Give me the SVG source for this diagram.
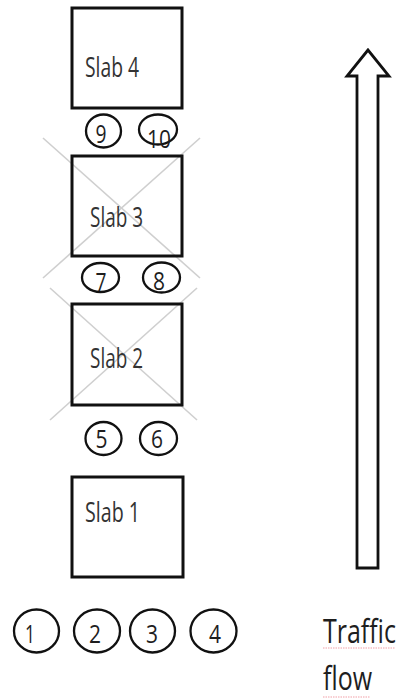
<svg xmlns="http://www.w3.org/2000/svg" width="402" height="699" viewBox="0 0 402 699">
  <style>
    .slab { fill: #ffffff; stroke: #111111; stroke-width: 3; }
    .cross { stroke: #cfcfcf; stroke-width: 1.6; fill: none; }
    .label { font-family: "Open Sans", "Liberation Sans", sans-serif; font-size: 28px; fill: #333333; }
    .pt { fill: #ffffff; stroke: #111111; stroke-width: 2.3; }
    .num { font-family: "Open Sans", "Liberation Sans", sans-serif; font-size: 26px; fill: #1e1e1e; text-anchor: middle; }
    .arrow { fill: #ffffff; stroke: #111111; stroke-width: 2.8; stroke-linejoin: miter; }
    .flow { font-family: "Open Sans", "Liberation Sans", sans-serif; font-size: 25px; fill: #1e1e1e; }
    .spell { stroke: #f2a0a8; stroke-width: 1.2; stroke-dasharray: 1.5 1; fill: none; }
  </style>
  <rect width="402" height="699" fill="#ffffff"/>

  <g id="slab4">
    <rect class="slab" x="72" y="8" width="110" height="100"/>
    <text class="label" x="85" y="77" textLength="54" lengthAdjust="spacingAndGlyphs">Slab 4</text>
  </g>

  <g id="slab3">
    <line class="cross" x1="43" y1="138" x2="200" y2="278"/>
    <line class="cross" x1="200" y1="138" x2="43" y2="278"/>
    <rect class="slab" x="72" y="156" width="110" height="100" fill-opacity="0"/>
    <text class="label" x="90" y="227" textLength="53" lengthAdjust="spacingAndGlyphs">Slab 3</text>
  </g>

  <g id="slab2">
    <line class="cross" x1="50" y1="288" x2="197" y2="420"/>
    <line class="cross" x1="197" y1="288" x2="50" y2="420"/>
    <rect class="slab" x="72" y="304" width="110" height="101" fill-opacity="0"/>
    <text class="label" x="90" y="368" textLength="53" lengthAdjust="spacingAndGlyphs">Slab 2</text>
  </g>

  <g id="slab1">
    <rect class="slab" x="72" y="477" width="111" height="100"/>
    <text class="label" x="85" y="522" textLength="55" lengthAdjust="spacingAndGlyphs">Slab 1</text>
  </g>

  <g id="p9"><ellipse class="pt" cx="103.5" cy="131" rx="17.5" ry="16.5"/><text class="num" x="101" y="143" textLength="11" lengthAdjust="spacingAndGlyphs">9</text></g>
  <g id="p10"><ellipse class="pt" cx="158" cy="129.5" rx="19" ry="15"/><text class="num" x="159" y="148" textLength="24" lengthAdjust="spacingAndGlyphs">10</text></g>
  <g id="p7"><ellipse class="pt" cx="100.5" cy="277.5" rx="18.5" ry="14.5"/><text class="num" x="101" y="291" textLength="11" lengthAdjust="spacingAndGlyphs">7</text></g>
  <g id="p8"><ellipse class="pt" cx="161.5" cy="277.5" rx="18.5" ry="15"/><text class="num" x="159" y="290" textLength="12" lengthAdjust="spacingAndGlyphs">8</text></g>
  <g id="p5"><ellipse class="pt" cx="103.5" cy="438.5" rx="18" ry="16.5"/><text class="num" x="101.5" y="448" textLength="12" lengthAdjust="spacingAndGlyphs">5</text></g>
  <g id="p6"><ellipse class="pt" cx="158.5" cy="438.5" rx="18.5" ry="16.5"/><text class="num" x="157" y="448" textLength="12" lengthAdjust="spacingAndGlyphs">6</text></g>
  <g id="p1"><ellipse class="pt" cx="36.5" cy="631" rx="22.5" ry="21.5"/><text class="num" x="30" y="643" textLength="10" lengthAdjust="spacingAndGlyphs">1</text></g>
  <g id="p2"><ellipse class="pt" cx="97" cy="631" rx="23" ry="21.5"/><text class="num" x="95" y="643" textLength="12" lengthAdjust="spacingAndGlyphs">2</text></g>
  <g id="p3"><ellipse class="pt" cx="152.5" cy="631" rx="22.5" ry="21.5"/><text class="num" x="152" y="643" textLength="12" lengthAdjust="spacingAndGlyphs">3</text></g>
  <g id="p4"><ellipse class="pt" cx="213.5" cy="631" rx="23" ry="21.5"/><text class="num" x="215" y="643" textLength="12" lengthAdjust="spacingAndGlyphs">4</text></g>

  <g id="connectors"></g>

  <g id="traffic-arrow">
    <polygon class="arrow" points="368,50 347,76 357,76 357,568 378,568 378,76 389,76"/>
  </g>

  <g id="traffic-label">
    <text class="flow" transform="translate(323,643) scale(1,1.3)" x="0" y="0">Traffic</text>
    <line class="spell" x1="323" y1="648" x2="395" y2="648"/>
    <text class="flow" transform="translate(323,690) scale(1,1.3)" x="0" y="0">flow</text>
    <line class="spell" x1="323" y1="697" x2="370" y2="697"/>
  </g>
</svg>
